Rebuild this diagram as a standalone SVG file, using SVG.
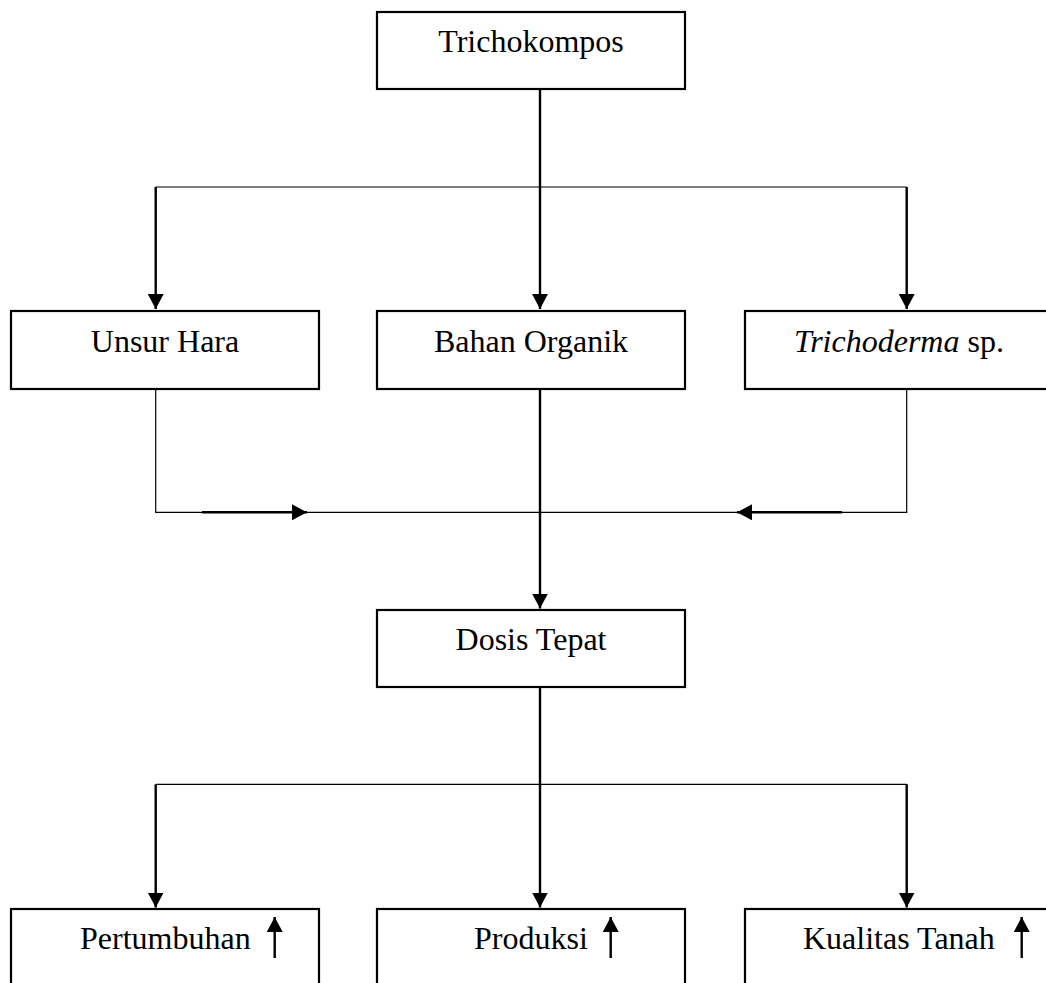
<svg xmlns="http://www.w3.org/2000/svg" width="1046" height="983" viewBox="0 0 1046 983">
<style>
.box{fill:#fff;stroke:#000;stroke-width:2.2}
.t{font-family:"Liberation Serif","Times New Roman",serif;font-size:32px;fill:#000}
.thin{fill:none;stroke:#000;stroke-width:1.2}
.thick{fill:none;stroke:#000;stroke-width:2.4}
</style>
<defs>
<marker id="ah" markerUnits="userSpaceOnUse" markerWidth="16" markerHeight="16" refX="15" refY="8" orient="auto">
<path d="M0,0 L15,8 L0,16 z" fill="#000"/>
</marker>
</defs>
<g id="connectors">
<path class="thin" d="M155.7,187 H906.7"/>
<path class="thick" d="M540,89 V309" marker-end="url(#ah)"/>
<path class="thick" d="M155.7,187 V309" marker-end="url(#ah)"/>
<path class="thick" d="M906.7,187 V309" marker-end="url(#ah)"/>
<path class="thin" d="M155.7,389 V512.3 H906.7 V389"/>
<path class="thick" d="M202,512.3 H307" marker-end="url(#ah)"/>
<path class="thick" d="M842,512.3 H737" marker-end="url(#ah)"/>
<path class="thick" d="M540,389 V608.5" marker-end="url(#ah)"/>
<path class="thin" d="M155.7,784.3 H906.7"/>
<path class="thick" d="M540,687 V907.5" marker-end="url(#ah)"/>
<path class="thick" d="M155.7,784.3 V907.5" marker-end="url(#ah)"/>
<path class="thick" d="M906.7,784.3 V907.5" marker-end="url(#ah)"/>
</g>
<g id="trichokompos">
<rect class="box" x="377" y="12" width="308" height="77"/>
<text class="t" x="531" y="52" text-anchor="middle">Trichokompos</text>
</g>
<g id="unsur-hara">
<rect class="box" x="11" y="311" width="308" height="78"/>
<text class="t" x="165" y="352" text-anchor="middle">Unsur Hara</text>
</g>
<g id="bahan-organik">
<rect class="box" x="377" y="311" width="308" height="78"/>
<text class="t" x="531" y="352" text-anchor="middle">Bahan Organik</text>
</g>
<g id="trichoderma">
<rect class="box" x="745" y="311" width="308" height="78"/>
<text class="t" x="899" y="352" text-anchor="middle"><tspan font-style="italic">Trichoderma</tspan> sp.</text>
</g>
<g id="dosis-tepat">
<rect class="box" x="377" y="610" width="308" height="77"/>
<text class="t" x="531" y="650" text-anchor="middle">Dosis Tepat</text>
</g>
<g id="pertumbuhan">
<rect class="box" x="11" y="909" width="308" height="90"/>
<text class="t" x="80" y="949">Pertumbuhan</text>
<path class="thick" d="M274.7,958 V917" marker-end="url(#ah)"/>
</g>
<g id="produksi">
<rect class="box" x="377" y="909" width="308" height="90"/>
<text class="t" x="474" y="949">Produksi</text>
<path class="thick" d="M610.7,958 V917" marker-end="url(#ah)"/>
</g>
<g id="kualitas-tanah">
<rect class="box" x="745" y="909" width="308" height="90"/>
<text class="t" x="803" y="949">Kualitas Tanah</text>
<path class="thick" d="M1021.7,958 V917" marker-end="url(#ah)"/>
</g>
</svg>
